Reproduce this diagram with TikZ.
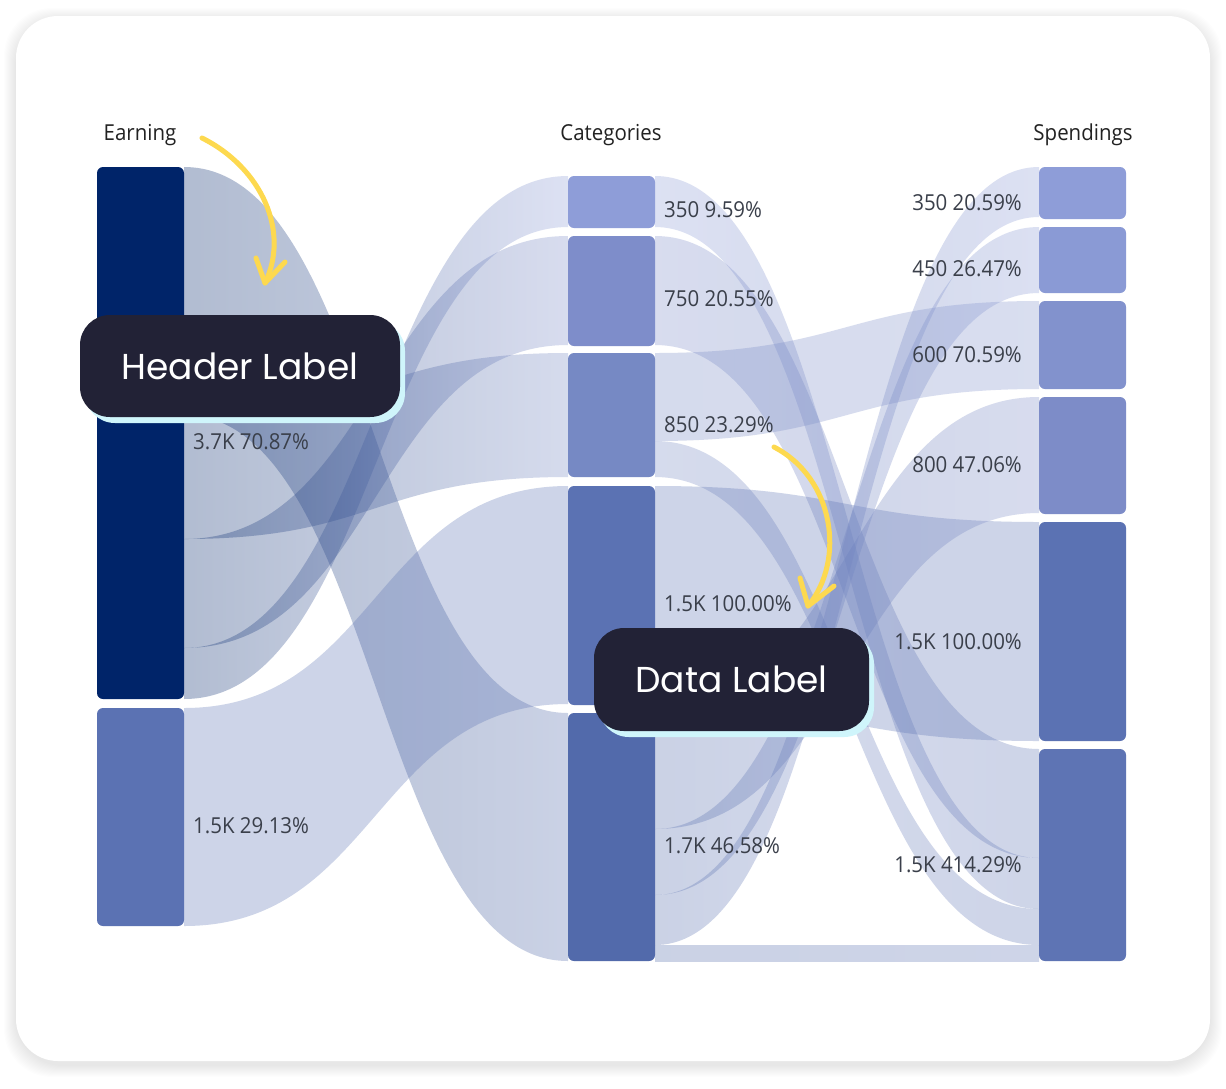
\documentclass[tikz,border=0pt]{standalone}
\usepackage{fontspec}
\setmainfont{Open Sans}
\newfontfamily\labfont[FakeStretch=0.93]{Open Sans}
\newfontfamily\popfont{Poppins}
\usetikzlibrary{calc,shadows}
\definecolor{cE1}{HTML}{002469}
\definecolor{cE2}{HTML}{5B72B3}
\definecolor{cC1}{HTML}{8E9DD8}
\definecolor{cC2}{HTML}{7E8DCA}
\definecolor{cC3}{HTML}{7689C4}
\definecolor{cC4}{HTML}{5B72B3}
\definecolor{cC5}{HTML}{526AAB}
\definecolor{cS1}{HTML}{8E9DD8}
\definecolor{cS2}{HTML}{8A9AD5}
\definecolor{cS3}{HTML}{8292CD}
\definecolor{cS4}{HTML}{7D8CC8}
\definecolor{cS5}{HTML}{5B72B3}
\definecolor{cS6}{HTML}{5E74B4}
\definecolor{labgrey}{HTML}{3A3F4A}
\definecolor{hdrblack}{HTML}{222222}
\definecolor{calloutbg}{HTML}{222236}
\definecolor{calloutshadow}{HTML}{CFF5FB}
\definecolor{arrowyellow}{HTML}{FDD94F}
\newcommand\flow[7]{%
  \shade[flowband,left color=#6,right color=#7]
   let \p1=(#1.north east), \p2=(#3.north west), \n1={0.5*(\x1+\x2)} in
   (\x1,\y1-#2) .. controls (\n1,\y1-#2) and (\n1,\y2-#4) .. (\x2,\y2-#4)
   -- (\x2,\y2-#4-#5) .. controls (\n1,\y2-#4-#5) and (\n1,\y1-#2-#5) .. (\x1,\y1-#2-#5) -- cycle;}
\begin{document}
\begin{tikzpicture}[x=1pt,y=-1pt,
 bar/.style={rectangle, rounded corners=6pt, inner sep=0pt, outer sep=0pt, draw=none, minimum width=87pt},
 flowband/.style={opacity=0.3},
 lab/.style={font=\labfont\fontsize{22}{26}\selectfont, text=labgrey, inner sep=0pt},
 hdr/.style={font=\labfont\fontsize{22}{26}\selectfont, text=hdrblack, inner sep=0pt},
 callout/.style={rectangle, rounded corners=30pt, fill=calloutbg, text=white, inner sep=0pt,
   font=\popfont\fontsize{36}{40}\selectfont,
   general shadow={fill=calloutshadow, shadow xshift=5pt, shadow yshift=-6pt}},
 yarrow/.style={draw=arrowyellow, line width=5pt, line cap=round, line join=round}]
\useasboundingbox (0,0) rectangle (1226,1088);
\fill[white] (0,0) rectangle (1226,1088);
% card shadow and card
\foreach \i in {1,...,12}
  \fill[black, opacity=0.007, rounded corners=48pt] (16-\i,16-\i+4) rectangle (1210+\i,1061+\i+4);
\fill[white, rounded corners=42pt] (16,16) rectangle (1210,1061);
% nodes
\node[bar, fill=cE1, minimum height=532pt, anchor=north west] (E1) at (97,167) {};
\node[bar, fill=cE2, minimum height=218pt, anchor=north west] (E2) at (97,708) {};
\node[bar, fill=cC1, minimum height=52pt, anchor=north west] (C1) at (568,176) {};
\node[bar, fill=cC2, minimum height=110pt, anchor=north west] (C2) at (568,236) {};
\node[bar, fill=cC3, minimum height=124pt, anchor=north west] (C3) at (568,353) {};
\node[bar, fill=cC4, minimum height=219pt, anchor=north west] (C4) at (568,486) {};
\node[bar, fill=cC5, minimum height=248pt, anchor=north west] (C5) at (568,713) {};
\node[bar, fill=cS1, minimum height=52pt, anchor=north west] (S1) at (1039,167) {};
\node[bar, fill=cS2, minimum height=66pt, anchor=north west] (S2) at (1039,227) {};
\node[bar, fill=cS3, minimum height=88pt, anchor=north west] (S3) at (1039,301) {};
\node[bar, fill=cS4, minimum height=117pt, anchor=north west] (S4) at (1039,397) {};
\node[bar, fill=cS5, minimum height=219pt, anchor=north west] (S5) at (1039,522) {};
\node[bar, fill=cS6, minimum height=212pt, anchor=north west] (S6) at (1039,749) {};
% flows
\begin{scope}[on background layer/.style={}]
\flow{E1}{0}{C5}{0}{248}{cE1}{cC5}
\flow{E1}{248}{C3}{0}{124}{cE1}{cC3}
\flow{E1}{372}{C2}{0}{109}{cE1}{cC2}
\flow{E1}{481}{C1}{0}{51}{cE1}{cC1}
\flow{E2}{0}{C4}{0}{218}{cE2}{cC4}
\flow{C1}{0}{S6}{109}{51}{cC1}{cS6}
\flow{C2}{0}{S6}{0}{109}{cC2}{cS6}
\flow{C3}{0}{S3}{0}{88}{cC3}{cS3}
\flow{C3}{88}{S6}{160}{36}{cC3}{cS6}
\flow{C4}{0}{S5}{0}{219}{cC4}{cS5}
\flow{C5}{0}{S4}{0}{116}{cC5}{cS4}
\flow{C5}{116}{S2}{0}{66}{cC5}{cS2}
\flow{C5}{182}{S1}{0}{50}{cC5}{cS1}
\flow{C5}{232}{S6}{196}{16}{cC5}{cS6}
\end{scope}
% headers
\node[hdr, anchor=base] (hE) at (140,140) {Earning};
\node[hdr, anchor=base] (hC) at (611,140) {Categories};
\node[hdr, anchor=base] (hS) at (1083,140) {Spendings};
% data labels
\node[lab, anchor=base west] (lE1) at (193,449) {3.7K 70.87\%};
\node[lab, anchor=base west] (lE2) at (193,833) {1.5K 29.13\%};
\node[lab, anchor=base west] (lC1) at (664,217) {350 9.59\%};
\node[lab, anchor=base west] (lC2) at (664,306) {750 20.55\%};
\node[lab, anchor=base west] (lC3) at (664,432) {850 23.29\%};
\node[lab, anchor=base west] (lC4) at (664,611) {1.5K 100.00\%};
\node[lab, anchor=base west] (lC5) at (664,853) {1.7K 46.58\%};
\node[lab, anchor=base east] (lS1) at (1022,210) {350 20.59\%};
\node[lab, anchor=base east] (lS2) at (1022,276) {450 26.47\%};
\node[lab, anchor=base east] (lS3) at (1022,362) {600 70.59\%};
\node[lab, anchor=base east] (lS4) at (1022,472) {800 47.06\%};
\node[lab, anchor=base east] (lS5) at (1022,649) {1.5K 100.00\%};
\node[lab, anchor=base east] (lS6) at (1022,872) {1.5K 414.29\%};
% callouts
\node[callout, minimum width=320pt, minimum height=102pt] (HL) at (240,366) {Header Label};
\node[callout, minimum width=275pt, minimum height=103pt] (DL) at (731.5,679.5) {Data Label};
% yellow arrows
\coordinate (ha1) at (202,138);
\coordinate (ha2) at (265,283);
\draw[yarrow] (ha1) .. controls (262,168) and (290,232) .. (ha2);
\draw[yarrow] ($(ha2)+(-9,-25)$) -- (ha2) -- ($(ha2)+(20,-21)$);
\coordinate (da1) at (774,447);
\coordinate (da2) at (808,606);
\draw[yarrow] (da1) .. controls (834,478) and (846,560) .. (da2);
\draw[yarrow] ($(da2)+(-8,-28)$) -- (da2) -- ($(da2)+(26,-20)$);
\end{tikzpicture}
\end{document}
